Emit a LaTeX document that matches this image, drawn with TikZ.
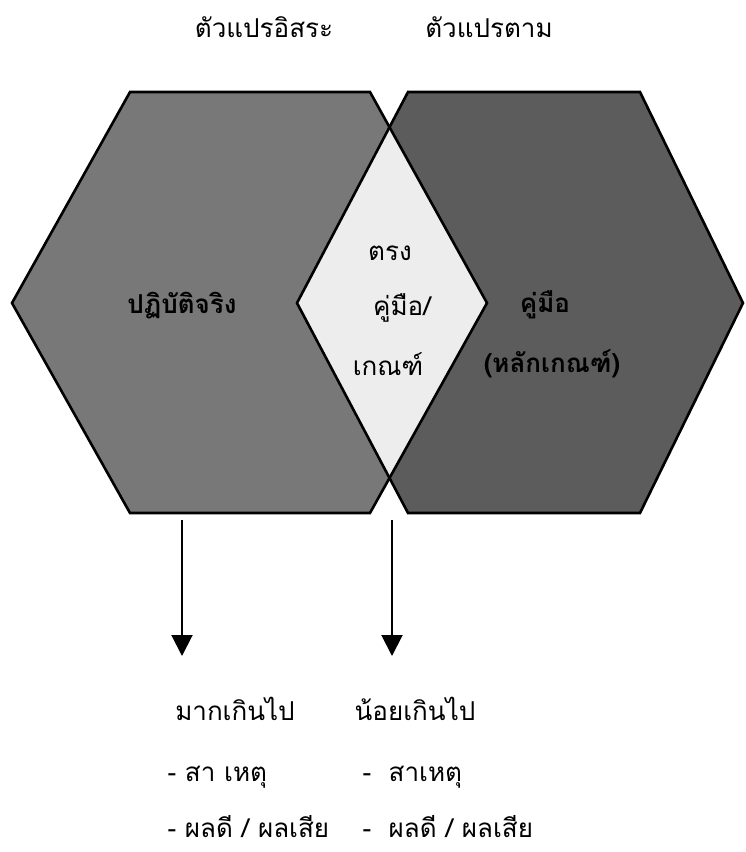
\documentclass[tikz,border=0pt]{standalone}
\usepackage{fontspec}
\newfontfamily\thaifont[Script=Thai]{Loma}
\usetikzlibrary{arrows.meta}
\definecolor{hexleft}{gray}{0.47}
\definecolor{hexright}{gray}{0.36}
\definecolor{midfill}{gray}{0.93}
\begin{document}
\begin{tikzpicture}[x=1pt,y=-1pt,
    thaitext/.style={font=\thaifont\fontsize{26}{30}\selectfont},
    hexlabel/.style={font=\thaifont\bfseries\fontsize{26}{30}\selectfont},
    outline/.style={line width=2.6pt, line join=miter},
    downarrow/.style={line width=2pt, -{Triangle[length=21pt,width=21pt]}}]
    \useasboundingbox (0,0) rectangle (745,852);

    % Hexagon corners (left: independent, right: dependent)
    \coordinate (lw) at (12,303);  \coordinate (lnw) at (130,92);
    \coordinate (lne) at (370,92); \coordinate (le) at (487,303);
    \coordinate (lse) at (370,513); \coordinate (lsw) at (130,513);
    \coordinate (rw) at (297,303); \coordinate (rnw) at (408,92);
    \coordinate (rne) at (640,92); \coordinate (re) at (743,303);
    \coordinate (rse) at (640,513); \coordinate (rsw) at (408,513);
    % Where the two hexagons cross
    \coordinate (xtop) at (intersection of lne--le and rw--rnw);
    \coordinate (xbot) at (intersection of lse--le and rw--rsw);

    % Fills
    \fill[hexleft] (lw) -- (lnw) -- (lne) -- (le) -- (lse) -- (lsw) -- cycle;
    \fill[hexright] (rw) -- (rnw) -- (rne) -- (re) -- (rse) -- (rsw) -- cycle;
    \fill[midfill] (rw) -- (xtop) -- (le) -- (xbot) -- cycle;

    % Outlines
    \draw[outline] (lw) -- (lnw) -- (lne) -- (le) -- (lse) -- (lsw) -- cycle;
    \draw[outline] (rw) -- (rnw) -- (rne) -- (re) -- (rse) -- (rsw) -- cycle;

    % Headings
    \node[thaitext] (indep) at (264,27) {ตัวแปรอิสระ};
    \node[thaitext] (dep) at (489,27) {ตัวแปรตาม};

    % Labels inside the shapes
    \node[hexlabel] (practice) at (182,306) {ปฏิบัติจริง};
    \node[thaitext] (match1) at (390,253) {ตรง};
    \node[thaitext] (match2) at (402,308) {คู่มือ/};
    \node[thaitext] (match3) at (388,364) {เกณฑ์};
    \node[hexlabel] (manual1) at (545,305) {คู่มือ};
    \node[hexlabel] (manual2) at (552,364) {(หลักเกณฑ์)};

    % Arrows
    \coordinate (a1) at (182,520); \coordinate (a1e) at (182,656);
    \coordinate (a2) at (392,520); \coordinate (a2e) at (392,656);
    \draw[downarrow] (a1) -- (a1e);
    \draw[downarrow] (a2) -- (a2e);

    % Results below
    \node[thaitext] (more) at (235,709) {มากเกินไป};
    \node[thaitext] (less) at (415,709) {น้อยเกินไป};
    \node[thaitext, anchor=west] (more1) at (164,777) {- สา เหตุ};
    \node[thaitext, anchor=west] (less1) at (359,777) {-~~สาเหตุ};
    \node[thaitext, anchor=west] (more2) at (164,827) {- ผลดี / ผลเสีย};
    \node[thaitext, anchor=west] (less2) at (359,827) {-~~ผลดี / ผลเสีย};
\end{tikzpicture}
\end{document}
